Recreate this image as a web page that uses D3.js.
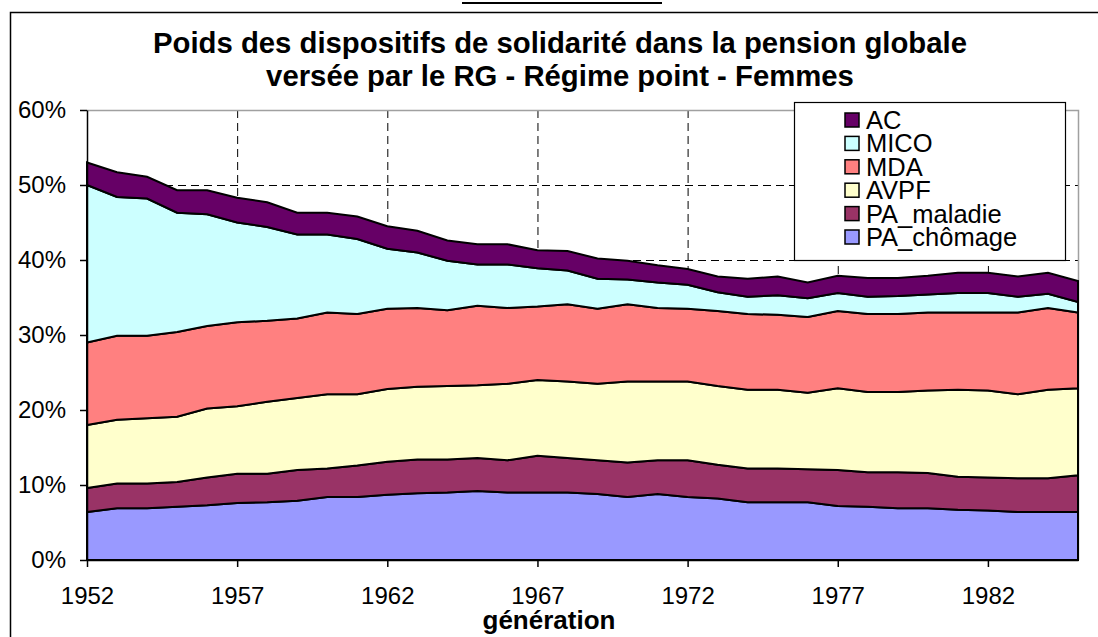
<!DOCTYPE html>
<html>
<head>
<meta charset="utf-8">
<script src="https://cdn.jsdelivr.net/npm/d3@7"></script>
<style>
    html, body { margin: 0; padding: 0; background: #fff; }
    svg text { font-family: Arial, 'Liberation Sans', sans-serif; fill: #000; }
</style>
</head>
<body>
<div id="chart"></div>
<script>
// generations on the category axis
const years = [1952, 1953, 1954, 1955, 1956, 1957, 1958, 1959, 1960, 1961,
    1962, 1963, 1964, 1965, 1966, 1967, 1968, 1969, 1970, 1971,
    1972, 1973, 1974, 1975, 1976, 1977, 1978, 1979, 1980, 1981,
    1982, 1983, 1984, 1985];

// share of each device in the global pension (%)
const paChomage = [6.4, 6.9, 6.9, 7.1, 7.3, 7.6, 7.7, 7.9, 8.4, 8.4,
    8.7, 8.9, 9.0, 9.2, 9.0, 9.0, 9.0, 8.8, 8.4, 8.8,
    8.4, 8.2, 7.7, 7.7, 7.7, 7.2, 7.1, 6.9, 6.9, 6.7,
    6.6, 6.4, 6.4, 6.4];
const paMaladie = [3.2, 3.3, 3.3, 3.3, 3.7, 3.9, 3.8, 4.1, 3.8, 4.2,
    4.4, 4.5, 4.4, 4.4, 4.3, 4.9, 4.6, 4.5, 4.6, 4.5,
    4.9, 4.5, 4.5, 4.5, 4.4, 4.8, 4.6, 4.8, 4.7, 4.4,
    4.4, 4.5, 4.5, 4.9];
const avpf = [8.4, 8.5, 8.7, 8.7, 9.2, 9.0, 9.6, 9.6, 9.9, 9.5,
    9.7, 9.7, 9.8, 9.7, 10.2, 10.1, 10.2, 10.2, 10.8, 10.5,
    10.5, 10.5, 10.5, 10.5, 10.2, 10.9, 10.7, 10.7, 11.0, 11.6,
    11.6, 11.2, 11.8, 11.6];
const mda = [11.0, 11.2, 11.0, 11.3, 11.0, 11.2, 10.8, 10.6, 10.9, 10.7,
    10.7, 10.5, 10.1, 10.6, 10.1, 9.8, 10.3, 10.0, 10.3, 9.8,
    9.7, 10.0, 10.1, 10.0, 10.1, 10.3, 10.4, 10.4, 10.4, 10.3,
    10.4, 10.9, 10.9, 10.1];
const mico = [21.0, 18.5, 18.3, 15.9, 14.9, 13.3, 12.5, 11.2, 10.4, 10.0,
    8.0, 7.4, 6.6, 5.5, 5.8, 5.1, 4.5, 4.0, 3.3, 3.4,
    3.2, 2.5, 2.3, 2.6, 2.5, 2.4, 2.3, 2.4, 2.4, 2.6,
    2.6, 2.1, 1.9, 1.4];
const ac = [3.0, 3.3, 2.9, 3.0, 3.2, 3.3, 3.3, 2.9, 2.9, 3.0,
    3.0, 2.9, 2.7, 2.7, 2.7, 2.4, 2.6, 2.7, 2.5, 2.3,
    2.1, 2.1, 2.4, 2.5, 2.1, 2.3, 2.5, 2.4, 2.5, 2.7,
    2.7, 2.7, 2.8, 2.8];

// stacking order, bottom to top
const seriesKeys = ['PA_chômage', 'PA_maladie', 'AVPF', 'MDA', 'MICO', 'AC'];
const seriesValues = [paChomage, paMaladie, avpf, mda, mico, ac];
const seriesColors = ['#9999ff', '#993366', '#ffffcc', '#ff8080', '#ccffff', '#660066'];

const yTickValues = [0, 10, 20, 30, 40, 50, 60];
const xTickYears = [1952, 1957, 1962, 1967, 1972, 1977, 1982];

const titleLines = [
    'Poids des dispositifs de solidarité dans la pension globale',
    'versée par le RG - Régime point - Femmes'
];
const xAxisTitle = 'génération';

const chart = {
    width: 1098,
    height: 637,
    margin: { top: 110, right: 20, bottom: 77, left: 87 }
};
const width = chart.width - chart.margin.left - chart.margin.right;
const height = chart.height - chart.margin.top - chart.margin.bottom;

// table for d3.stack
const table = years.map((year, i) => {
    const row = { year };
    seriesKeys.forEach((k, s) => { row[k] = seriesValues[s][i]; });
    return row;
});
const stacked = d3.stack().keys(seriesKeys)(table);

const svg = d3.select('#chart')
    .append('svg')
    .attr('width', chart.width)
    .attr('height', chart.height);

// scrap of the document above the chart
svg.append('line')
    .attr('x1', 462).attr('x2', 662)
    .attr('y1', 3).attr('y2', 3)
    .attr('stroke', '#000')
    .attr('stroke-width', 2);

// chart frame
svg.append('rect')
    .attr('x', 10.5).attr('y', 12.5)
    .attr('width', 1100).attr('height', 700)
    .attr('fill', '#fff')
    .attr('stroke', '#000')
    .attr('stroke-width', 1.5);

// title
svg.append('text')
    .attr('text-anchor', 'middle')
    .style('font-size', '29.3px')
    .style('font-weight', 'bold')
    .selectAll('tspan')
    .data(titleLines)
    .enter()
    .append('tspan')
    .attr('x', 560)
    .attr('y', (d, i) => 53 + i * 33)
    .text(d => d);

const g = svg.append('g')
    .attr('transform', `translate(${chart.margin.left},${chart.margin.top})`);

const x = d3.scaleLinear()
    .domain([years[0], years[years.length - 1]])
    .range([0, width]);
const y = d3.scaleLinear()
    .domain([0, 60])
    .range([height, 0]);

// dashed grid
g.append('g')
    .attr('class', 'grid')
    .call(d3.axisLeft(y).tickValues(yTickValues.slice(1, -1)).tickSize(-width).tickFormat(''));
g.append('g')
    .attr('class', 'grid')
    .attr('transform', `translate(0,${height})`)
    .call(d3.axisBottom(x).tickValues(xTickYears.slice(1)).tickSize(-height).tickFormat(''));
g.selectAll('.grid .domain').remove();
g.selectAll('.grid line')
    .attr('stroke', '#000')
    .attr('stroke-width', 1)
    .attr('stroke-dasharray', '8,5');

// plot area border (grey, top and right)
g.append('path')
    .attr('d', `M0,0.5H${width + 0.5}V${height}`)
    .attr('fill', 'none')
    .attr('stroke', '#a0a0a0')
    .attr('stroke-width', 1.5);

// stacked areas
const area = d3.area()
    .x(d => x(d.data.year))
    .y0(d => y(d[0]))
    .y1(d => y(d[1]));

g.selectAll('.layer')
    .data(stacked)
    .enter()
    .append('path')
    .attr('class', 'layer')
    .attr('d', area)
    .attr('fill', (d, i) => seriesColors[i])
    .attr('stroke', '#000')
    .attr('stroke-width', 2);

// axes
const yAxis = g.append('g')
    .call(d3.axisLeft(y)
        .tickValues(yTickValues)
        .tickSizeInner(7)
        .tickSizeOuter(0)
        .tickPadding(14)
        .tickFormat(d => d + '%'));
const xAxis = g.append('g')
    .attr('transform', `translate(0,${height})`)
    .call(d3.axisBottom(x)
        .tickValues(xTickYears)
        .tickSizeInner(7)
        .tickSizeOuter(0)
        .tickPadding(20)
        .tickFormat(d3.format('d')));
[yAxis, xAxis].forEach(a => {
    a.selectAll('text')
        .style('font-size', '24px')
        .style('font-family', "Arial, 'Liberation Sans', sans-serif")
        .attr('fill', '#000');
    a.selectAll('line, path').attr('stroke', '#000').attr('stroke-width', 1.5);
});

// axis title
svg.append('text')
    .attr('x', 549)
    .attr('y', 629)
    .attr('text-anchor', 'middle')
    .style('font-size', '26px')
    .style('font-weight', 'bold')
    .text(xAxisTitle);

// legend, top series first
const legendBox = { x: 794, y: 102, width: 271, height: 158, row: 23.4 };
const legend = svg.append('g')
    .attr('transform', `translate(${legendBox.x},${legendBox.y})`);
legend.append('rect')
    .attr('x', 0.5).attr('y', 0.5)
    .attr('width', legendBox.width)
    .attr('height', legendBox.height)
    .attr('fill', '#fff')
    .attr('stroke', '#000')
    .attr('stroke-width', 1.2);

const legendItems = seriesKeys.map((k, i) => ({ key: k, color: seriesColors[i] })).reverse();
const item = legend.selectAll('.item')
    .data(legendItems)
    .enter()
    .append('g')
    .attr('class', 'item')
    .attr('transform', (d, i) => `translate(51,${18 + i * legendBox.row})`);
item.append('rect')
    .attr('x', 0).attr('y', -7)
    .attr('width', 14).attr('height', 14)
    .attr('fill', d => d.color)
    .attr('stroke', '#000')
    .attr('stroke-width', 1.5);
item.append('text')
    .attr('x', 21)
    .attr('y', 9)
    .style('font-size', '25.5px')
    .text(d => d.key);
</script>
</body>
</html>
